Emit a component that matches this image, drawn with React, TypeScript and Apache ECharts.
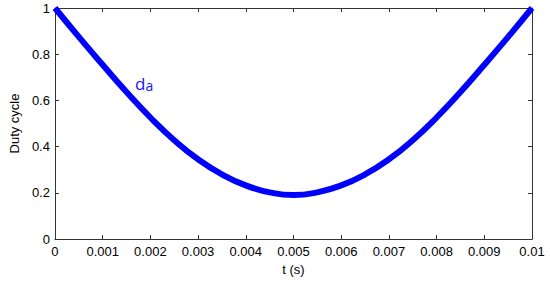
import React, { useEffect, useRef } from "react";
import * as echarts from "echarts";

const tValues = [0, 0.0005, 0.001, 0.0015, 0.002, 0.0025, 0.003, 0.0035, 0.004, 0.0045, 0.005, 0.0055, 0.006, 0.0065, 0.007, 0.0075, 0.008, 0.0085, 0.009, 0.0095, 0.01];
const dutyA = [1, 0.875, 0.754, 0.636, 0.526, 0.428, 0.345, 0.28, 0.232, 0.202, 0.19, 0.202, 0.232, 0.28, 0.345, 0.428, 0.526, 0.636, 0.754, 0.875, 1];
const xTickStep = 0.001;
const yTickStep = 0.2;

const fmt = (v: number) => String(parseFloat(v.toFixed(4)));

export default function App() {
  const ref = useRef<HTMLDivElement>(null);
  useEffect(() => {
    if (!ref.current) return;
    const chart = echarts.init(ref.current, null, { renderer: "svg" });
    const axisColor = "#333333";
    const font = "'Liberation Sans', Arial, sans-serif";
    const boxAxis = {
      axisLine: { show: true, onZero: false, lineStyle: { color: axisColor, width: 1 } },
      axisTick: { show: true, inside: true, length: 4, lineStyle: { color: axisColor } },
      splitLine: { show: false },
    };
    chart.setOption({
      animation: false,
      backgroundColor: "#ffffff",
      grid: { left: 50, top: 8, right: 18, bottom: 42, containLabel: false },
      xAxis: [
        {
          type: "value",
          min: 0,
          max: 0.01,
          interval: xTickStep,
          name: "t (s)",
          nameLocation: "middle",
          nameGap: 24,
          nameTextStyle: { color: "#000", fontSize: 13, fontFamily: font },
          axisLabel: { color: "#000", fontSize: 13, fontFamily: font, margin: 6, formatter: fmt },
          ...boxAxis,
        },
        {
          type: "value",
          position: "top",
          min: 0,
          max: 0.01,
          interval: xTickStep,
          axisLabel: { show: false },
          ...boxAxis,
        },
      ],
      yAxis: [
        {
          type: "value",
          min: 0,
          max: 1,
          interval: yTickStep,
          name: "Duty cycle",
          nameLocation: "middle",
          nameGap: 32,
          nameTextStyle: { color: "#000", fontSize: 13, fontFamily: font },
          axisLabel: { color: "#000", fontSize: 13, fontFamily: font, margin: 5, formatter: fmt },
          ...boxAxis,
        },
        {
          type: "value",
          position: "right",
          min: 0,
          max: 1,
          interval: yTickStep,
          axisLabel: { show: false },
          ...boxAxis,
        },
      ],
      series: [
        {
          type: "line",
          xAxisIndex: 0,
          yAxisIndex: 0,
          data: tValues.map((t, i) => [t, dutyA[i]]),
          smooth: 0.5,
          showSymbol: false,
          lineStyle: { color: "#0000ff", width: 6 },
        },
      ],
      graphic: [
        {
          type: "text",
          left: 135,
          top: 75,
          style: {
            text: "{d|d}{a|a}",
            rich: {
              d: { fontSize: 17, fill: "#1515ff", fontFamily: "'Open Sans', sans-serif" },
              a: { fontSize: 14, fill: "#1515ff", fontFamily: "'Open Sans', sans-serif", padding: [3, 0, 0, 0] },
            },
          },
        },
      ],
    });
    return () => chart.dispose();
  }, []);
  return <div ref={ref} style={{ width: 550, height: 281, position: "absolute", left: 0, top: 0 }} />;
}
